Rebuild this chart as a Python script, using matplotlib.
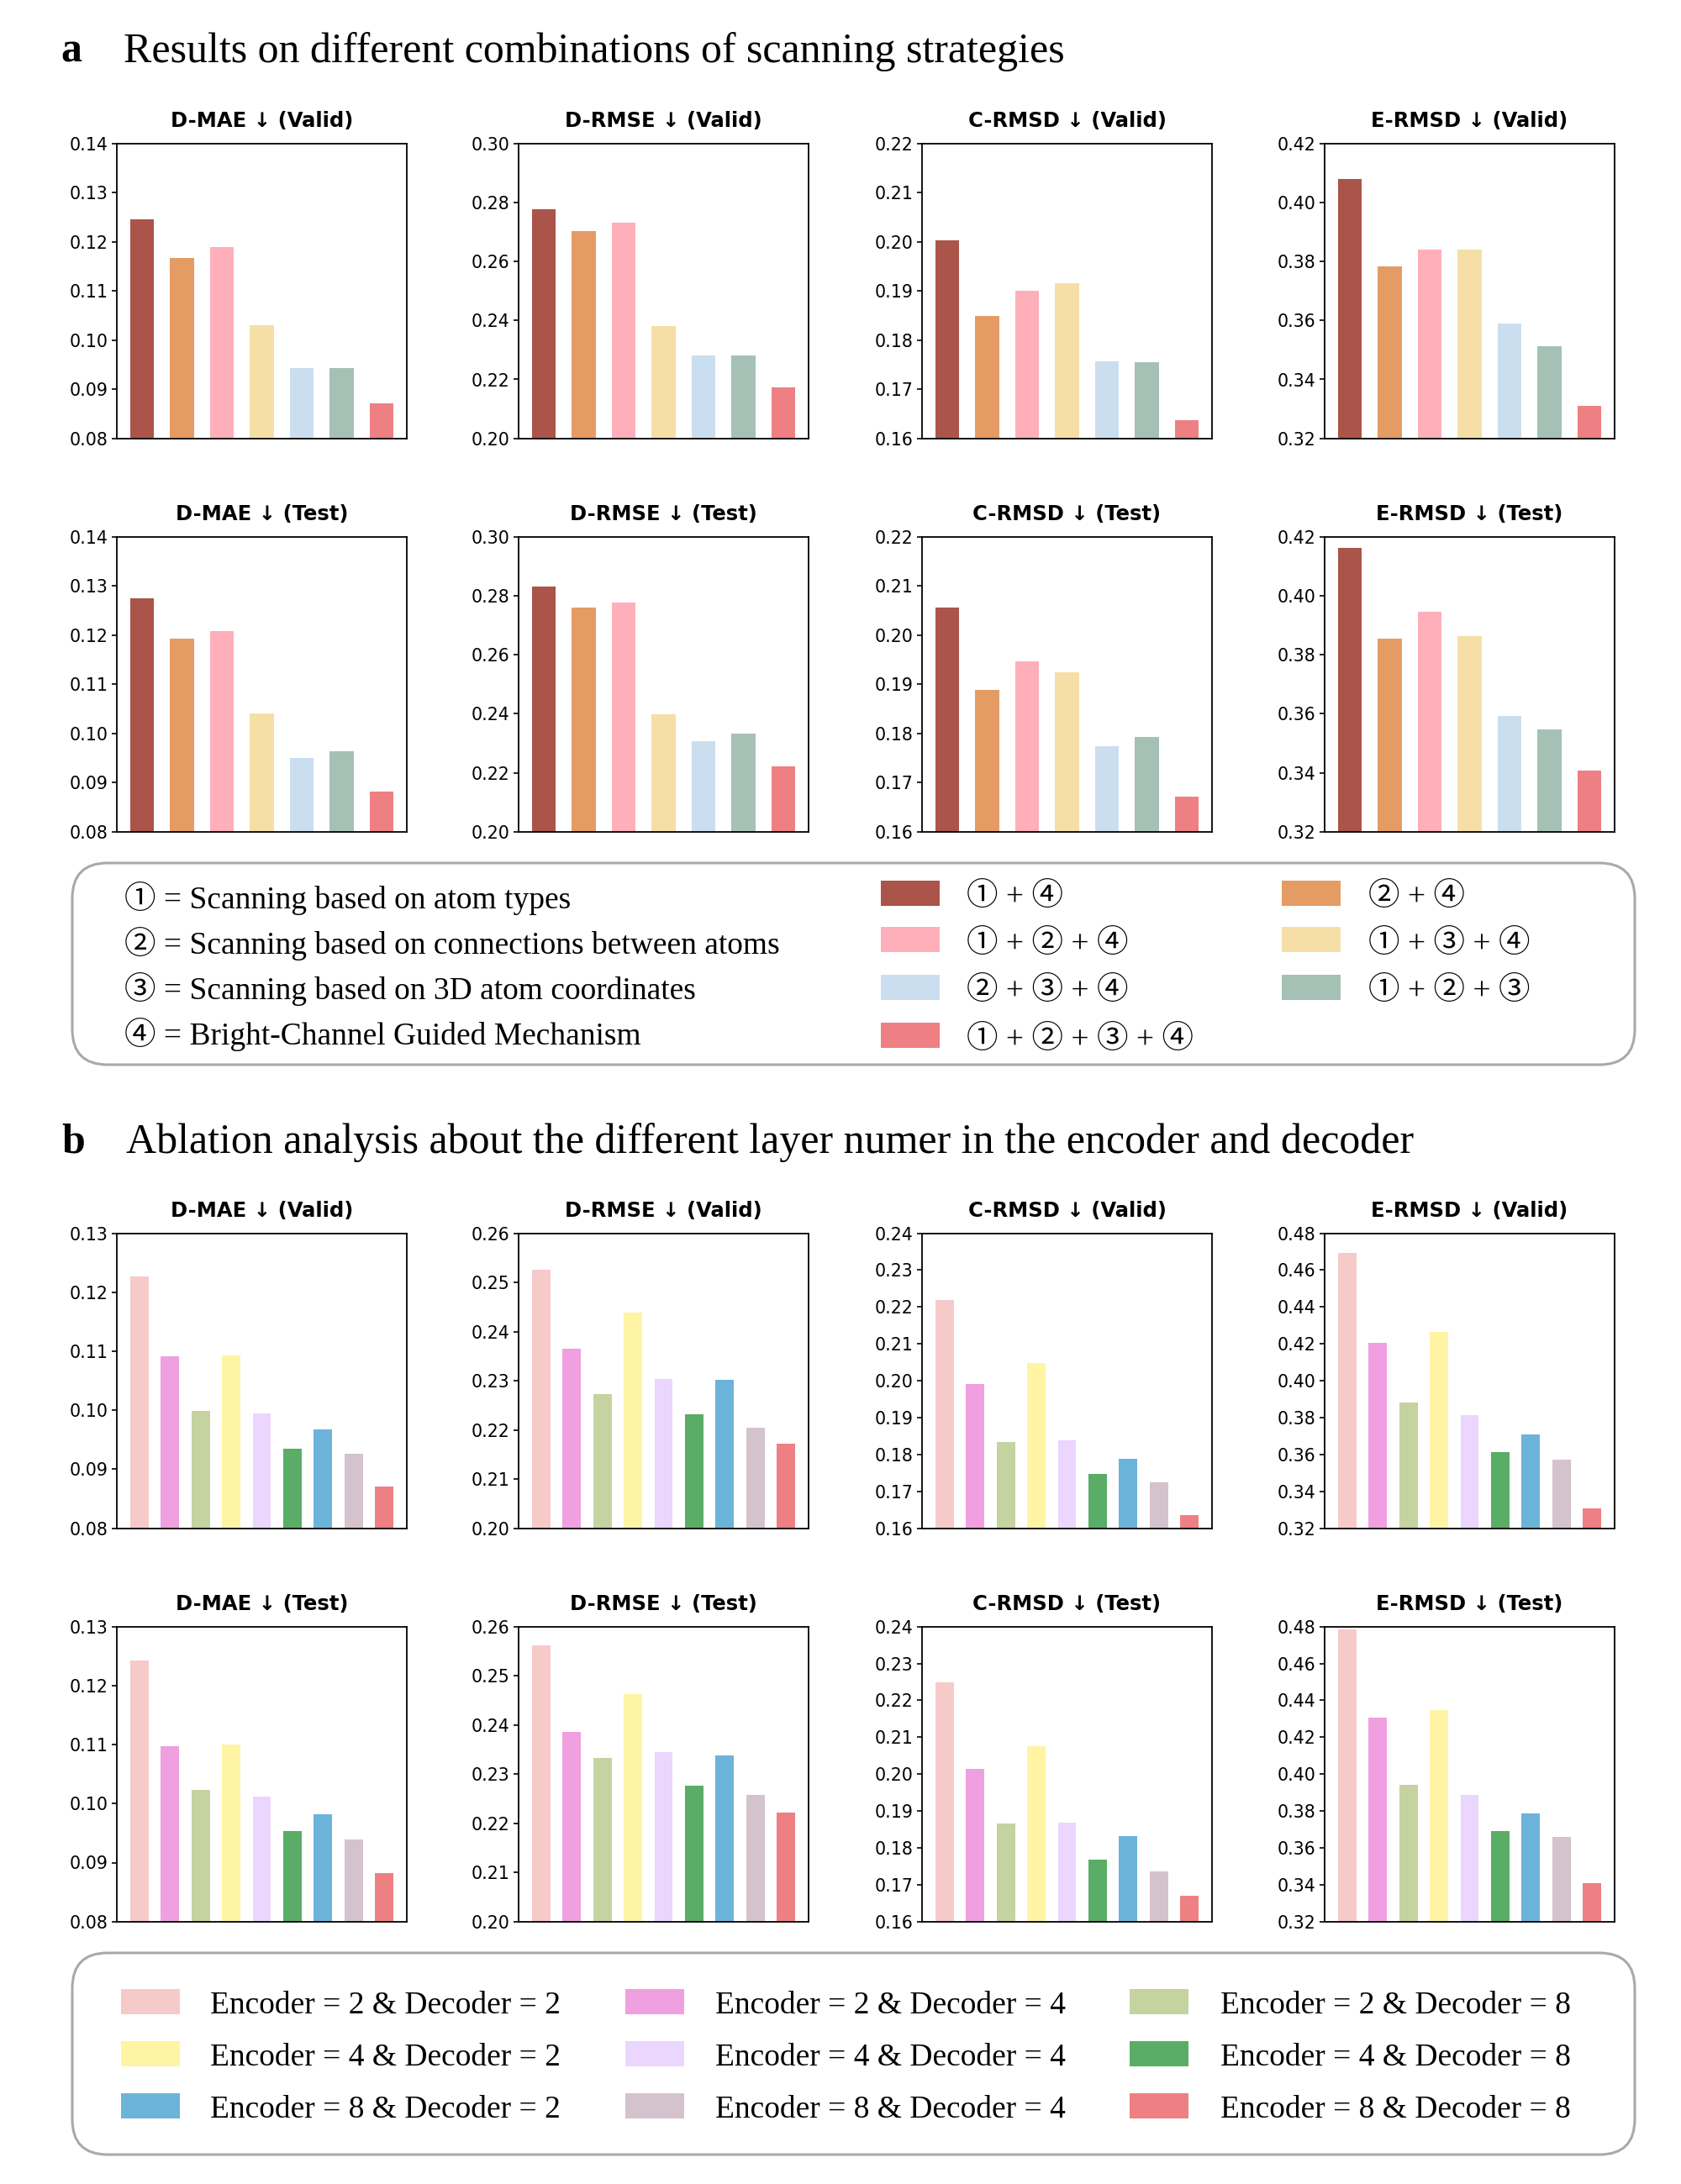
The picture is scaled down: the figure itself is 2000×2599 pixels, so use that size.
import matplotlib
matplotlib.use("Agg")
import matplotlib.pyplot as plt
from matplotlib.patches import FancyBboxPatch, Rectangle
import numpy as np

# ---------------- data ----------------
metrics = ["D-MAE", "D-RMSE", "C-RMSD", "E-RMSD"]

# Panel a: scanning strategy combinations
combo_labels = ["①+④", "②+④", "①+②+④", "①+③+④", "②+③+④", "①+②+③", "①+②+③+④"]
combo_colors = ["#AB5449", "#E59C64", "#FFAFBA", "#F6DFA6", "#CBDEEF", "#A5C1B6", "#EE8083"]
a_valid_dmae = [0.1245, 0.1167, 0.1189, 0.1030, 0.0943, 0.0943, 0.0871]
a_valid_drmse = [0.2776, 0.2702, 0.2731, 0.2382, 0.2280, 0.2281, 0.2172]
a_valid_crmsd = [0.2003, 0.1849, 0.1900, 0.1915, 0.1756, 0.1755, 0.1637]
a_valid_ermsd = [0.4079, 0.3783, 0.3840, 0.3840, 0.3589, 0.3513, 0.3311]
a_test_dmae = [0.1275, 0.1193, 0.1208, 0.1040, 0.0950, 0.0964, 0.0882]
a_test_drmse = [0.2832, 0.2760, 0.2778, 0.2399, 0.2307, 0.2333, 0.2221]
a_test_crmsd = [0.2056, 0.1889, 0.1947, 0.1925, 0.1774, 0.1793, 0.1671]
a_test_ermsd = [0.4163, 0.3855, 0.3945, 0.3864, 0.3593, 0.3547, 0.3407]
a_ylims = [(0.08, 0.14), (0.20, 0.30), (0.16, 0.22), (0.32, 0.42)]
a_ysteps = [0.01, 0.02, 0.01, 0.02]

# Panel b: encoder / decoder layer numbers
layer_labels = ["Encoder = 2 & Decoder = 2", "Encoder = 2 & Decoder = 4", "Encoder = 2 & Decoder = 8",
                "Encoder = 4 & Decoder = 2", "Encoder = 4 & Decoder = 4", "Encoder = 4 & Decoder = 8",
                "Encoder = 8 & Decoder = 2", "Encoder = 8 & Decoder = 4", "Encoder = 8 & Decoder = 8"]
layer_colors = ["#F7CACA", "#F09FE0", "#C4D3A0", "#FFF4A4", "#EAD6FE", "#5AAD66", "#6CB3DA", "#D4C3CC", "#EE8083"]
b_valid_dmae = [0.1227, 0.1092, 0.0999, 0.1093, 0.0995, 0.0935, 0.0968, 0.0926, 0.0871]
b_valid_drmse = [0.2525, 0.2365, 0.2272, 0.2439, 0.2304, 0.2232, 0.2302, 0.2205, 0.2172]
b_valid_crmsd = [0.2220, 0.1990, 0.1834, 0.2049, 0.1839, 0.1748, 0.1789, 0.1725, 0.1635]
b_valid_ermsd = [0.4695, 0.4207, 0.3884, 0.4266, 0.3815, 0.3613, 0.3709, 0.3571, 0.3308]
b_test_dmae = [0.1242, 0.1098, 0.1023, 0.1100, 0.1012, 0.0954, 0.0982, 0.0939, 0.0882]
b_test_drmse = [0.2562, 0.2386, 0.2333, 0.2463, 0.2345, 0.2277, 0.2338, 0.2258, 0.2222]
b_test_crmsd = [0.2249, 0.2014, 0.1866, 0.2076, 0.1868, 0.1768, 0.1832, 0.1736, 0.1670]
b_test_ermsd = [0.4786, 0.4307, 0.3942, 0.4348, 0.3887, 0.3691, 0.3787, 0.3659, 0.3408]
b_ylims = [(0.08, 0.13), (0.20, 0.26), (0.16, 0.24), (0.32, 0.48)]
b_ysteps = [0.01, 0.01, 0.01, 0.02]

definitions = ["① = Scanning based on atom types",
               "② = Scanning based on connections between atoms",
               "③ = Scanning based on 3D atom coordinates",
               "④ = Bright-Channel Guided Mechanism"]

title_a = "Results on different combinations of scanning strategies"
title_b = "Ablation analysis about the different layer numer in the encoder and decoder"

# ---------------- figure ----------------
W, H = 2000, 2599
fig = plt.figure(figsize=(W / 100, H / 100), dpi=100)

SERIF = ["Liberation Serif", "Noto Sans CJK JP", "DejaVu Sans"]
SANS_BOLD = ["DejaVu Sans"]

col_left_px = [139, 617, 1097, 1576]
ax_w_px = 345
ax_h_px = 351
row_bottom_px = [521.7, 989.7, 1818.6, 2286.7]


def make_axes(col, row):
    l = col_left_px[col] / W
    b = 1 - row_bottom_px[row] / H
    return fig.add_axes([l, b, ax_w_px / W, ax_h_px / H])


def draw_panel(ax, values, colors, ylim, step, title):
    x = np.arange(len(values))
    ax.bar(x, [v - ylim[0] for v in values], bottom=ylim[0], width=0.6, color=colors)
    ax.set_ylim(*ylim)
    ax.set_yticks(np.round(np.arange(ylim[0], ylim[1] + step / 2, step), 3))
    ax.yaxis.set_major_formatter(matplotlib.ticker.FormatStrFormatter("%.2f"))
    ax.set_xticks([])
    ax.tick_params(axis="y", labelsize=14.8, length=4, width=1.2)
    for s in ax.spines.values():
        s.set_linewidth(1.3)
    ax.set_title(title, fontsize=17.5, fontweight="bold", pad=14, family=SANS_BOLD)


a_data = [[a_valid_dmae, a_valid_drmse, a_valid_crmsd, a_valid_ermsd],
          [a_test_dmae, a_test_drmse, a_test_crmsd, a_test_ermsd]]
b_data = [[b_valid_dmae, b_valid_drmse, b_valid_crmsd, b_valid_ermsd],
          [b_test_dmae, b_test_drmse, b_test_crmsd, b_test_ermsd]]
splits = ["Valid", "Test"]

for r in range(2):
    for c in range(4):
        ax = make_axes(c, r)
        draw_panel(ax, a_data[r][c], combo_colors, a_ylims[c], a_ysteps[c],
                   f"{metrics[c]} ↓ ({splits[r]})")
for r in range(2):
    for c in range(4):
        ax = make_axes(c, r + 2)
        draw_panel(ax, b_data[r][c], layer_colors, b_ylims[c], b_ysteps[c],
                   f"{metrics[c]} ↓ ({splits[r]})")

# ---------------- section titles ----------------
def fy(px):
    return 1 - px / H

fig.text(72 / W, fy(74), "a", fontsize=36, fontweight="bold", family=SERIF, va="baseline")
fig.text(147 / W, fy(74), title_a, fontsize=36, family=SERIF, va="baseline")
fig.text(73 / W, fy(1372), "b", fontsize=36, fontweight="bold", family=SERIF, va="baseline")
fig.text(150 / W, fy(1372), title_b, fontsize=36, family=SERIF, va="baseline")

# ---------------- legend boxes ----------------
def rounded_box(x0, y0_top, x1, y1_bot):
    xi, wi = x0 / 100, (x1 - x0) / 100
    yi = (H - y1_bot) / 100
    hi = (y1_bot - y0_top) / 100
    p = FancyBboxPatch((xi, yi), wi, hi, boxstyle="round,pad=0,rounding_size=0.42",
                       transform=fig.dpi_scale_trans, facecolor="white",
                       edgecolor="#A9A9A9", linewidth=2.2, zorder=0)
    fig.patches.append(p)

rounded_box(86, 1027, 1945, 1267)
rounded_box(86, 2324, 1945, 2564)

LEG_FS = 27
patch_w, patch_h = 70, 30

# legend a
def_rows = [1069, 1123, 1177, 1231]
for txt, yy in zip(definitions, def_rows):
    fig.text(148 / W, fy(yy), txt, fontsize=LEG_FS, family=SERIF, va="center")

a_patch_x = [1048, 1525]
a_text_x = [1150, 1628]
a_rows = [1063, 1118, 1175, 1232]
for i, (lab, col) in enumerate(zip(combo_labels, combo_colors)):
    r, cidx = divmod(i, 2)
    if i == 6:
        r, cidx = 3, 0
    px, yy = a_patch_x[cidx], a_rows[r]
    fig.patches.append(Rectangle((px / W, fy(yy + patch_h / 2)), patch_w / W, patch_h / H,
                                 transform=fig.transFigure, facecolor=col, edgecolor="none"))
    fig.text(a_text_x[cidx] / W, fy(yy + 5), lab.replace("+", " + "), fontsize=LEG_FS,
             family=SERIF, va="center")

# legend b
b_patch_x = [144, 744, 1344]
b_text_x = [250, 851, 1452]
b_rows = [2382, 2444, 2506]
for i, (lab, col) in enumerate(zip(layer_labels, layer_colors)):
    r, cidx = divmod(i, 3)
    px, yy = b_patch_x[cidx], b_rows[r]
    fig.patches.append(Rectangle((px / W, fy(yy + patch_h / 2)), patch_w / W, patch_h / H,
                                 transform=fig.transFigure, facecolor=col, edgecolor="none"))
    fig.text(b_text_x[cidx] / W, fy(yy + 5), lab, fontsize=LEG_FS, family=SERIF, va="center")

fig.savefig("out.png", dpi=100, facecolor="white")
